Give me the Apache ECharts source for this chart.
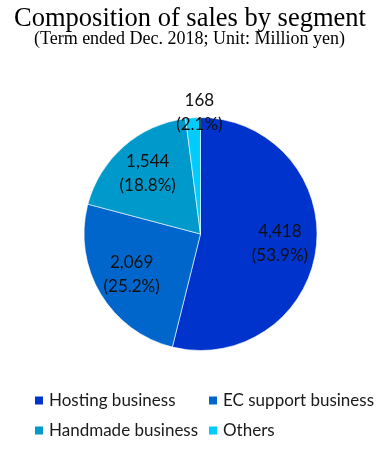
<!DOCTYPE html>
<html><head><meta charset="utf-8">
<script src="https://cdn.jsdelivr.net/npm/echarts@6/dist/echarts.min.js"></script>
<style>html,body{margin:0;padding:0;background:#fff}#c{width:389px;height:450px}</style>
</head><body><div id="c"></div>
<script>
const categories = ['Hosting business', 'EC support business', 'Handmade business', 'Others'];
const values = [4418, 2069, 1544, 168];
const percents = ['53.9%', '25.2%', '18.8%', '2.1%'];
const colors = ['#0033CC', '#0066CC', '#0099CC', '#00CCFF'];

const chart = echarts.init(document.getElementById('c'), null, {renderer: 'canvas'});
const SANS = 'Lato';
const SERIF = 'Liberation Serif';
const CENTER = [200.5, 234];
const R = 116.5;

const mainData = categories.map((n, i) => ({name: n, value: values[i], itemStyle: {color: colors[i]}}));
const labelData = categories.map((n, i) => {
  const d = {name: n, value: values[i], itemStyle: {color: 'rgba(0,0,0,0)'}};
  if (i === 3) d.label = {offset: [4, -42]};
  return d;
});

chart.setOption({
  animation: false,
  title: [
    {text: 'Composition of sales by segment', left: 190, textAlign: 'center', top: 6, padding: 0,
     textStyle: {fontFamily: SERIF, fontSize: 26.5, fontWeight: 'normal', color: '#000'}},
    {text: '(Term ended Dec. 2018; Unit: Million yen)', left: 189.5, textAlign: 'center', top: 30, padding: 0,
     textStyle: {fontFamily: SERIF, fontSize: 18, fontWeight: 'normal', color: '#000'}}
  ],
  legend: [
    {data: [categories[0], categories[2]], orient: 'vertical', left: 33, top: 392, padding: 0,
     icon: 'rect', itemWidth: 10, itemHeight: 10, itemGap: 13,
     textStyle: {fontFamily: SANS, fontSize: 17, color: '#1a1a1a'}},
    {data: [categories[1], categories[3]], orient: 'vertical', left: 207, top: 392, padding: 0,
     icon: 'rect', itemWidth: 10, itemHeight: 10, itemGap: 13,
     textStyle: {fontFamily: SANS, fontSize: 17, color: '#1a1a1a'}}
  ],
  series: [
    {type: 'pie', center: CENTER, radius: [0, R], startAngle: 90, clockwise: true,
     silent: true, label: {show: false}, labelLine: {show: false},
     itemStyle: {borderColor: '#ffffff', borderWidth: 0.6},
     data: mainData},
    {type: 'pie', center: CENTER, radius: [37.5, R], startAngle: 90, clockwise: true,
     silent: true, avoidLabelOverlap: false, labelLine: {show: false},
     label: {show: true, position: 'inside', fontFamily: SANS, fontSize: 17, lineHeight: 24, color: '#111',
       formatter: p => values[p.dataIndex].toLocaleString('en-US') + '\n(' + percents[p.dataIndex] + ')'},
     data: labelData}
  ]
});
</script></body></html>
